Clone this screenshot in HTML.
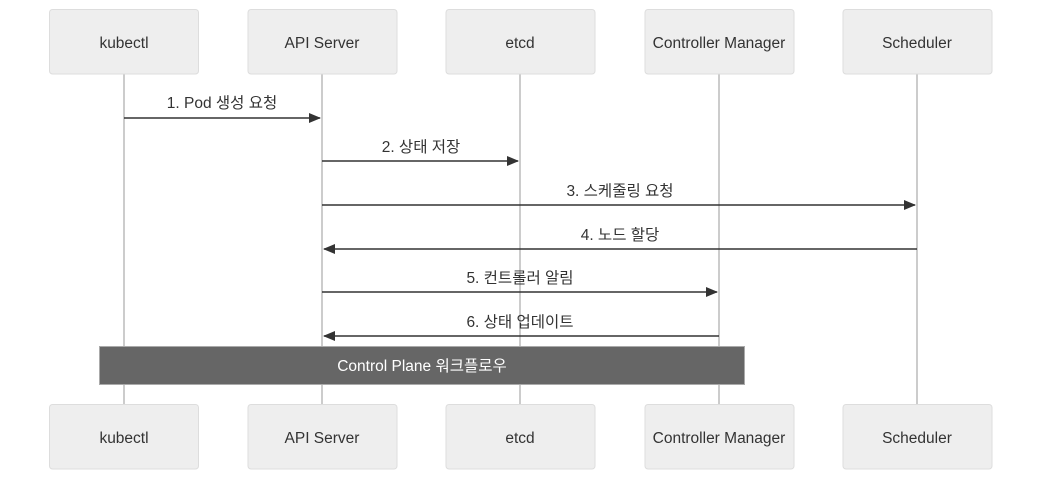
<!DOCTYPE html>
<html><head><meta charset="utf-8"><style>
html,body{margin:0;padding:0;background:#fff;}
svg{display:block;}
text{font-family:"Liberation Sans","Noto Sans CJK KR",sans-serif;font-size:15.5px;fill:#333;}
</style></head><body>
<svg width="1050" height="484" viewBox="0 0 1050 484" xmlns="http://www.w3.org/2000/svg">
<defs><marker id="a" markerWidth="12" markerHeight="12" refX="11" refY="6" orient="auto" markerUnits="userSpaceOnUse"><path d="M0,1 L12,6 L0,11 z" fill="#333"/></marker></defs>
<g stroke="#ccc" stroke-width="2">
<line x1="124" y1="74" x2="124" y2="405"/><line x1="322" y1="74" x2="322" y2="405"/><line x1="520" y1="74" x2="520" y2="405"/><line x1="719" y1="74" x2="719" y2="405"/><line x1="917" y1="74" x2="917" y2="405"/>
</g>
<g fill="#eee" stroke="#ddd" stroke-width="1">
<rect x="49.5" y="9.5" width="149" height="64.5" rx="3"/><rect x="248" y="9.5" width="149" height="64.5" rx="3"/><rect x="446" y="9.5" width="149" height="64.5" rx="3"/><rect x="645" y="9.5" width="149" height="64.5" rx="3"/><rect x="843" y="9.5" width="149" height="64.5" rx="3"/>
<rect x="49.5" y="404.5" width="149" height="64.5" rx="3"/><rect x="248" y="404.5" width="149" height="64.5" rx="3"/><rect x="446" y="404.5" width="149" height="64.5" rx="3"/><rect x="645" y="404.5" width="149" height="64.5" rx="3"/><rect x="843" y="404.5" width="149" height="64.5" rx="3"/>
</g>
<g text-anchor="middle">
<text x="124" y="48">kubectl</text><text x="322" y="48">API Server</text><text x="520" y="48">etcd</text><text x="719" y="48">Controller Manager</text><text x="917" y="48">Scheduler</text>
<text x="124" y="443">kubectl</text><text x="322" y="443">API Server</text><text x="520" y="443">etcd</text><text x="719" y="443">Controller Manager</text><text x="917" y="443">Scheduler</text>
</g>
<g stroke="#333" stroke-width="1.5" marker-end="url(#a)">
<line x1="124" y1="118" x2="320" y2="118"/>
<line x1="322" y1="161" x2="518" y2="161"/>
<line x1="322" y1="205" x2="915" y2="205"/>
<line x1="917" y1="249" x2="324" y2="249"/>
<line x1="322" y1="292" x2="717" y2="292"/>
<line x1="719" y1="336" x2="324" y2="336"/>
</g>
<g text-anchor="middle">
<text x="222" y="108">1. Pod 생성 요청</text>
<text x="421" y="152">2. 상태 저장</text>
<text x="620" y="196">3. 스케줄링 요청</text>
<text x="620" y="240">4. 노드 할당</text>
<text x="520" y="283">5. 컨트롤러 알림</text>
<text x="520" y="327">6. 상태 업데이트</text>
</g>
<rect x="99.5" y="346.5" width="645" height="38" fill="#666" stroke="#aaa" stroke-width="1"/>
<text x="422" y="371" text-anchor="middle" style="fill:#fff">Control Plane 워크플로우</text>
</svg>
</body></html>
